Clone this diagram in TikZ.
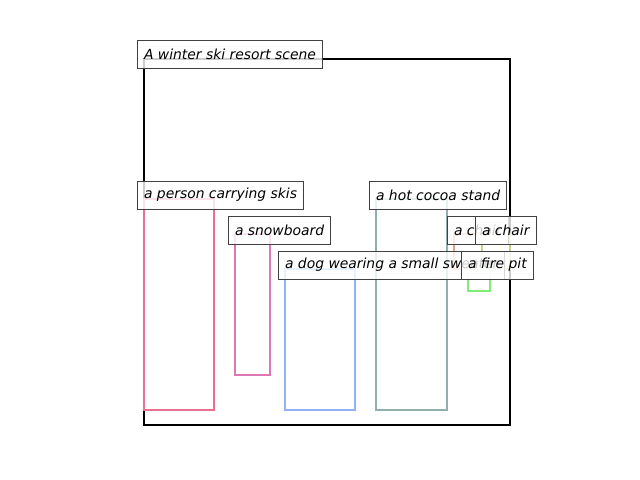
\documentclass[tikz,border=0pt]{standalone}
\usepackage{fontspec}
\newfontfamily\labfont{DejaVu Sans}
\begin{document}
\begin{tikzpicture}[x=0.72pt,y=-0.72pt,
  objbox/.style={line width=1.44pt, line join=miter},
  lab/.style={draw=black!75, line width=0.72pt, fill=white, fill opacity=0.8, text opacity=1,
    font=\labfont\itshape\fontsize{10pt}{12pt}\selectfont, anchor=west,
    minimum height=20.16pt, inner xsep=4.7pt, inner ysep=0pt}]
\definecolor{cperson}{RGB}{234,112,144}
\definecolor{csnow}{RGB}{222,120,180}
\definecolor{cdog}{RGB}{144,176,248}
\definecolor{ccocoa}{RGB}{144,176,176}
\definecolor{cchairA}{RGB}{225,160,130}
\definecolor{cchairB}{RGB}{205,205,140}
\definecolor{cfire}{RGB}{130,235,120}
\useasboundingbox (0,0) rectangle (640,480);
% scene
\draw[objbox, black] (144,59) rectangle (510,425);
% objects
\draw[objbox, cperson] (144,199) rectangle (214,410);
\draw[objbox, csnow] (235,234) rectangle (270,375);
\draw[objbox, cdog] (285,269) rectangle (355,410);
\draw[objbox, ccocoa] (376,199) rectangle (447,410);
\draw[objbox, cchairA] (454,234) rectangle (482,269);
\draw[objbox, cchairB] (482,234) rectangle (510,269);
\draw[objbox, cfire] (468,269) rectangle (490,291);
% labels
\node[lab] (l0) at (137,54) {A winter ski resort scene};
\node[lab] (l1) at (137,195) {a person carrying skis};
\node[lab] (l2) at (228,230) {a snowboard};
\node[lab] (l3) at (278,265) {a dog wearing a small sweater};
\node[lab] (l4) at (369,195) {a hot cocoa stand};
\node[lab] (l5) at (447,230) {a chair};
\node[lab] (l6) at (475,230) {a chair};
\node[lab] (l7) at (461,265) {a fire pit};
\end{tikzpicture}
\end{document}
